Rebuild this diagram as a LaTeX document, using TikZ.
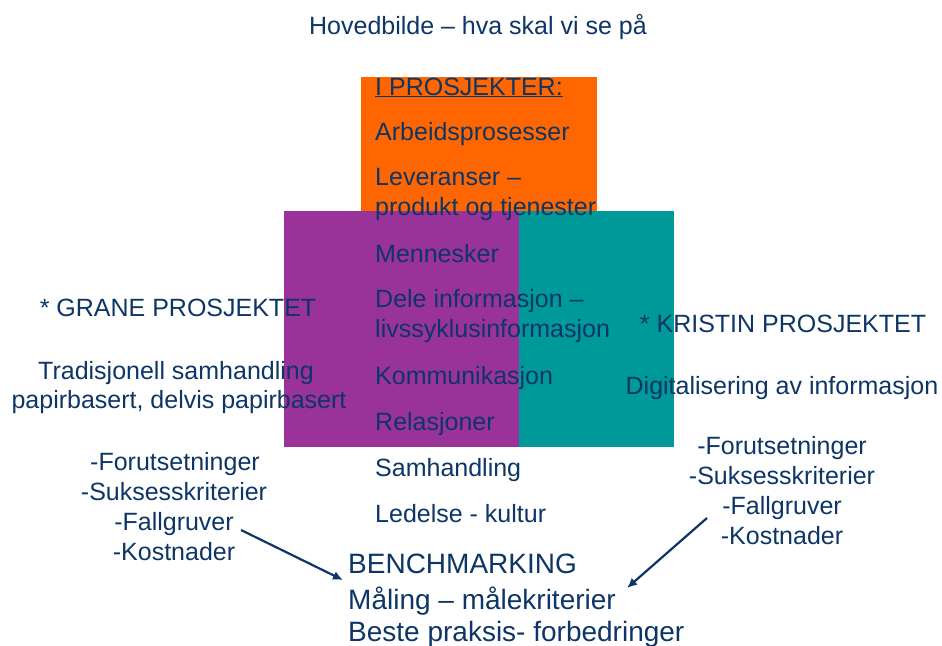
\documentclass[tikz,border=0pt]{standalone}
\usepackage{fontspec}
\setmainfont{Liberation Sans}
\usepackage{xcolor}
\usepackage{tikz}
\usetikzlibrary{arrows.meta}
\definecolor{navy}{HTML}{0D3566}
\definecolor{prorange}{HTML}{FF6600}
\definecolor{prpurple}{HTML}{993399}
\definecolor{prteal}{HTML}{009999}

\begin{document}
\begin{tikzpicture}[x=1pt, y=-1pt,
    txt/.style={inner sep=0, text=navy, font=\fontsize{25}{30}\selectfont},
    item/.style={txt, anchor=base west},
    mid/.style={txt, anchor=base},
    big/.style={inner sep=0, text=navy, anchor=base west, font=\fontsize{28}{34}\selectfont}]
    \useasboundingbox (0,0) rectangle (942,645);

    % Boxes
    \fill[prorange] (361,77) rectangle (597,211);
    \fill[prpurple] (284,211) rectangle (519,447);
    \fill[prteal] (519,211) rectangle (674,447);

    % Title
    \node[mid] (title) at (478,34) {Hovedbilde -- hva skal vi se på};

    % Middle list
    \node[item] (head) at (375,95) {\underline{I PROSJEKTER:}};
    \node[item] (arb) at (375,140) {Arbeidsprosesser};
    \node[item] (lev) at (375,185) {Leveranser --};
    \node[item] (prod) at (375,215) {produkt og tjenester};
    \node[item] (menn) at (375,262) {Mennesker};
    \node[item] (dele) at (375,307) {Dele informasjon --};
    \node[item] (livs) at (375,337) {livssyklusinformasjon};
    \node[item] (komm) at (375,384) {Kommunikasjon};
    \node[item] (rel) at (375,430) {Relasjoner};
    \node[item] (samh) at (375,476) {Samhandling};
    \node[item] (led) at (375,522) {Ledelse - kultur};

    % Grane
    \node[mid] (grane) at (178,316) {* GRANE PROSJEKTET};
    \node[mid] (trad) at (176,379) {Tradisjonell samhandling};
    \node[mid] (papir) at (179,408) {papirbasert, delvis papirbasert};
    \node[mid] (gfor) at (175,470) {-Forutsetninger};
    \node[mid] (gsuk) at (174,500) {-Suksesskriterier};
    \node[mid] (gfall) at (174,530) {-Fallgruver};
    \node[mid] (gkost) at (174,560) {-Kostnader};

    % Kristin
    \node[mid] (kristin) at (783,332) {* KRISTIN PROSJEKTET};
    \node[mid] (digi) at (782,394) {Digitalisering av informasjon};
    \node[mid] (kfor) at (782,454) {-Forutsetninger};
    \node[mid] (ksuk) at (782,484) {-Suksesskriterier};
    \node[mid] (kfall) at (782,514) {-Fallgruver};
    \node[mid] (kkost) at (782,544) {-Kostnader};

    % Benchmarking
    \node[big] (bench) at (348,573) {BENCHMARKING};
    \node[big] (maal) at (348,609) {Måling -- målekriterier};
    \node[big] (beste) at (348,641) {Beste praksis- forbedringer};

    % Arrows
    \coordinate (gstart) at (241,530);
    \coordinate (gend) at (343,580);
    \coordinate (kstart) at (707,518);
    \coordinate (kend) at (627,588);
    \draw[navy, line width=2.2pt, -{Latex[length=10pt,width=9pt]}] (gstart) -- (gend);
    \draw[navy, line width=2.2pt, -{Latex[length=10pt,width=9pt]}] (kstart) -- (kend);
\end{tikzpicture}
\end{document}
